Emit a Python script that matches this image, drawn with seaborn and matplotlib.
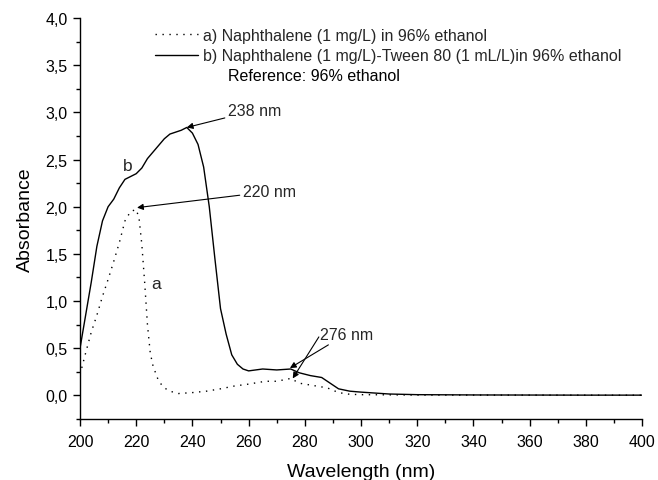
import matplotlib
matplotlib.use("Agg")
import matplotlib.pyplot as plt
from matplotlib.ticker import MultipleLocator, FuncFormatter
from matplotlib.lines import Line2D
import seaborn as sns
import pandas as pd

# Spectrum a: naphthalene in ethanol
wl_a = [200, 202, 204, 206, 208, 210, 212, 214, 216, 218, 220, 221, 222, 223,
        224, 225, 226, 228, 230, 232, 235, 240, 245, 250, 255, 260, 266, 270,
        275, 278, 282, 288, 292, 296, 300, 320, 360, 400]
abs_a = [0.22, 0.45, 0.67, 0.85, 1.05, 1.23, 1.42, 1.62, 1.85, 1.95, 1.97, 1.88,
         1.60, 1.20, 0.75, 0.45, 0.31, 0.15, 0.08, 0.045, 0.02, 0.03, 0.045,
         0.07, 0.10, 0.12, 0.15, 0.15, 0.18, 0.13, 0.11, 0.08, 0.03, 0.012,
         0.008, 0.004, 0.003, 0.002]

# Spectrum b: naphthalene with Tween 80 in ethanol
wl_b = [200, 202, 204, 206, 208, 210, 212, 214, 216, 218, 220, 222, 224, 226,
        228, 230, 232, 234, 236, 238, 240, 242, 244, 246, 248, 250, 252, 254,
        256, 258, 260, 265, 270, 275, 278, 282, 286, 289, 292, 296, 300, 310,
        320, 340, 360, 380, 400]
abs_b = [0.50, 0.85, 1.20, 1.58, 1.85, 2.00, 2.08, 2.20, 2.29, 2.32, 2.35, 2.41,
         2.51, 2.58, 2.65, 2.72, 2.77, 2.79, 2.81, 2.84, 2.78, 2.66, 2.42, 2.00,
         1.45, 0.92, 0.65, 0.43, 0.33, 0.28, 0.26, 0.28, 0.27, 0.28, 0.24, 0.21,
         0.19, 0.13, 0.07, 0.045, 0.035, 0.015, 0.008, 0.005, 0.004, 0.003, 0.003]

labels = ["a) Naphthalene (1 mg/L) in 96% ethanol",
          "b) Naphthalene (1 mg/L)-Tween 80 (1 mL/L)in 96% ethanol"]

df = pd.concat([
    pd.DataFrame({"wl": wl_a, "abs": abs_a, "series": labels[0]}),
    pd.DataFrame({"wl": wl_b, "abs": abs_b, "series": labels[1]}),
])

sns.set_theme(style="ticks")
plt.rcParams["font.family"] = ["Liberation Sans", "DejaVu Sans"]

fig = plt.figure(figsize=(6.58, 4.81), dpi=100)
ax = fig.add_axes([0.1216, 0.1268, 0.8541, 0.8337])

dot = (1, 4)
sns.lineplot(data=df, x="wl", y="abs", style="series",
             dashes={labels[0]: dot, labels[1]: ""},
             color="black", linewidth=1.0, legend=False, ax=ax, sort=False)

ax.set_xlim(200, 400)
ax.set_ylim(-0.25, 4.0)
ax.xaxis.set_major_locator(MultipleLocator(20))
ax.xaxis.set_minor_locator(MultipleLocator(10))
ax.yaxis.set_major_locator(MultipleLocator(0.5))
ax.yaxis.set_minor_locator(MultipleLocator(0.25))
ax.yaxis.set_major_formatter(FuncFormatter(lambda v, _: f"{v:.1f}".replace(".", ",")))
ax.tick_params(which="major", direction="out", length=5, width=1.0,
               labelsize=11.5, colors="black", pad=4)
ax.tick_params(axis="x", which="major", pad=6)
ax.tick_params(which="minor", direction="out", length=3, width=1.0, colors="black")
for side in ("top", "right"):
    ax.spines[side].set_visible(False)
for side in ("left", "bottom"):
    ax.spines[side].set_color("black")
    ax.spines[side].set_linewidth(1.0)

ax.set_xlabel("Wavelength (nm)", fontsize=14, color="black", labelpad=10)
ax.set_ylabel("Absorbance", fontsize=14, color="black", labelpad=8)

fs = 11.5
handles = [Line2D([], [], color="black", lw=1.0, dashes=dot),
           Line2D([], [], color="black", lw=1.0)]
ax.legend(handles, labels, loc="upper left", bbox_to_anchor=(0.133, 0.975),
          frameon=False, fontsize=fs, handlelength=2.7, handletextpad=0.3,
          labelspacing=0.33, borderaxespad=0, borderpad=0)
ax.text(0.263, 0.857, "Reference: 96% ethanol", transform=ax.transAxes,
        fontsize=fs, color="black", va="center", ha="left")

arrow = dict(arrowstyle="-|>", color="black", lw=0.8,
             mutation_scale=9, shrinkA=0, shrinkB=0)
ax.annotate("238 nm", xy=(238, 2.84), xytext=(252.7, 3.02),
            fontsize=fs, va="center", ha="left", arrowprops=arrow)
ax.annotate("220 nm", xy=(220.3, 1.99), xytext=(258, 2.16),
            fontsize=fs, va="center", ha="left", arrowprops=arrow)
ax.annotate("276 nm", xy=(274.7, 0.29), xytext=(285.3, 0.65),
            fontsize=fs, va="center", ha="left", arrowprops=arrow)
ax.annotate("", xy=(275.7, 0.18), xytext=(285.0, 0.62), arrowprops=arrow)
ax.text(217, 2.44, "b", fontsize=12.5, ha="center", va="center")
ax.text(227, 1.19, "a", fontsize=12.5, ha="center", va="center")

fig.savefig("out.png", dpi=100)
